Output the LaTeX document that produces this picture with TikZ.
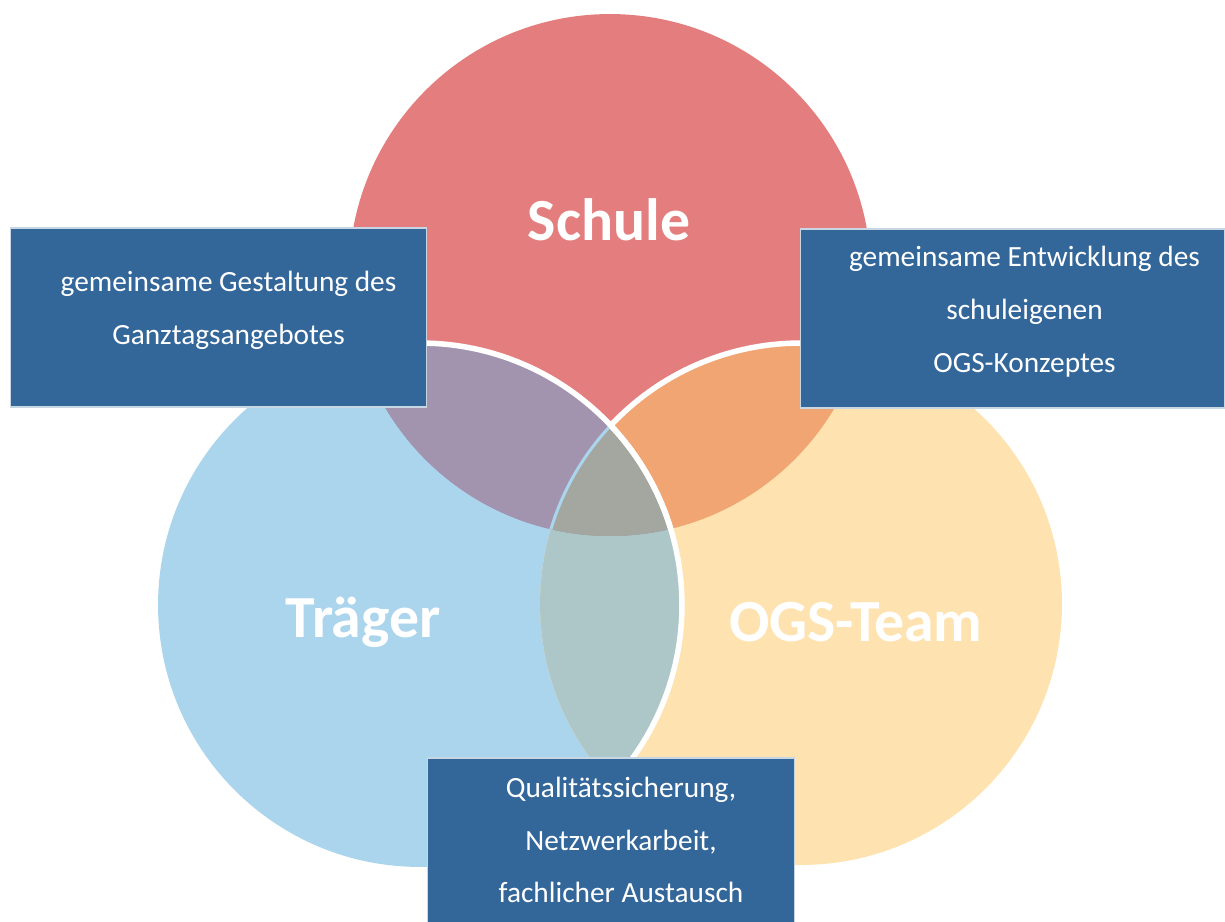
\documentclass[tikz,border=0pt]{standalone}
\usepackage{fontspec}
\setmainfont{Carlito}
\usetikzlibrary{calc}
\usetikzlibrary{positioning}
\usepackage{xcolor}
\definecolor{schulered}{HTML}{E47E7E}
\definecolor{traegerblue}{HTML}{ABD5ED}
\definecolor{ogsyellow}{HTML}{FEE3B1}
\definecolor{stmix}{HTML}{A293AE}
\definecolor{sgmix}{HTML}{F0A572}
\definecolor{tgmix}{HTML}{ADC6C7}
\definecolor{allmix}{HTML}{A3A79F}
\definecolor{boxblue}{HTML}{336699}
\definecolor{boxedge}{HTML}{C8D5E2}
\tikzset{
 venn label/.style={text=white, font=\fontsize{34}{38}\selectfont\bfseries},
 info box/.style={fill=boxblue, draw=boxedge, line width=0.6pt, inner sep=0},
 info text/.style={text=white, align=center, font=\fontsize{16.7}{30.1}\selectfont},
 white rim/.style={white, line width=0.11cm}
}
\newcommand{\schulecirc}{(S) circle (5.22cm)}
\newcommand{\traegercirc}{(T) circle (5.24cm)}
\newcommand{\ogscirc}{(G) circle (5.22cm)}

\begin{document}
\begin{tikzpicture}[x=0.02cm, y=-0.02cm]
\useasboundingbox (0,0) rectangle (1225,922);
\coordinate (S) at (610,275);
\coordinate (T) at (420,605);
\coordinate (G) at (801,604);
% the three circles
\fill[schulered] \schulecirc;
\fill[traegerblue] \traegercirc;
\fill[ogsyellow] \ogscirc;
% overlaps
\begin{scope} \clip \schulecirc; \fill[stmix] \traegercirc; \end{scope}
\begin{scope} \clip \schulecirc; \fill[sgmix] \ogscirc; \end{scope}
\begin{scope} \clip \traegercirc; \fill[tgmix] \ogscirc; \end{scope}
\begin{scope} \clip \schulecirc; \clip \traegercirc; \fill[allmix] \ogscirc; \end{scope}
% rims
\begin{scope} \clip \schulecirc; \draw[white rim] \ogscirc; \end{scope}
\begin{scope} \clip \schulecirc; \fill[stmix] \traegercirc; \clip \traegercirc; \fill[allmix] \ogscirc;
 \draw[traegerblue, line width=0.06cm] \ogscirc; \end{scope}
\begin{scope} \clip \schulecirc; \draw[white rim] \traegercirc; \end{scope}
\begin{scope} \clip \ogscirc; \draw[white rim] \traegercirc; \end{scope}
% names
\node[venn label] (schule) at (609,220) {Schule};
\node[venn label] (traeger) at (363,622) {Träger};
\node[venn label] (ogsteam) at (856,622) {OGS-Team};
% boxes
\node[info box, minimum width=8.34cm, minimum height=3.58cm] (gestaltung) at (218.5,317.5) {};
\node[info box, minimum width=8.5cm, minimum height=3.58cm] (konzept) at (1012.5,318.5) {};
\node[info box, minimum width=7.36cm, minimum height=3.44cm] (austausch) at (611,844) {};
\node[info text] (gestaltungtext) at ($(gestaltung.center)+(10,-7)$) {gemeinsame Gestaltung des\\Ganztagsangebotes};
\node[info text] (konzepttext) at ($(konzept.center)+(12,-7)$) {gemeinsame Entwicklung des\\schuleigenen\\OGS-Konzeptes};
\node[info text] (austauschtext) at ($(austausch.center)+(10,-4)$) {Qualitätssicherung,\\Netzwerkarbeit,\\fachlicher Austausch};
\end{tikzpicture}
\end{document}
